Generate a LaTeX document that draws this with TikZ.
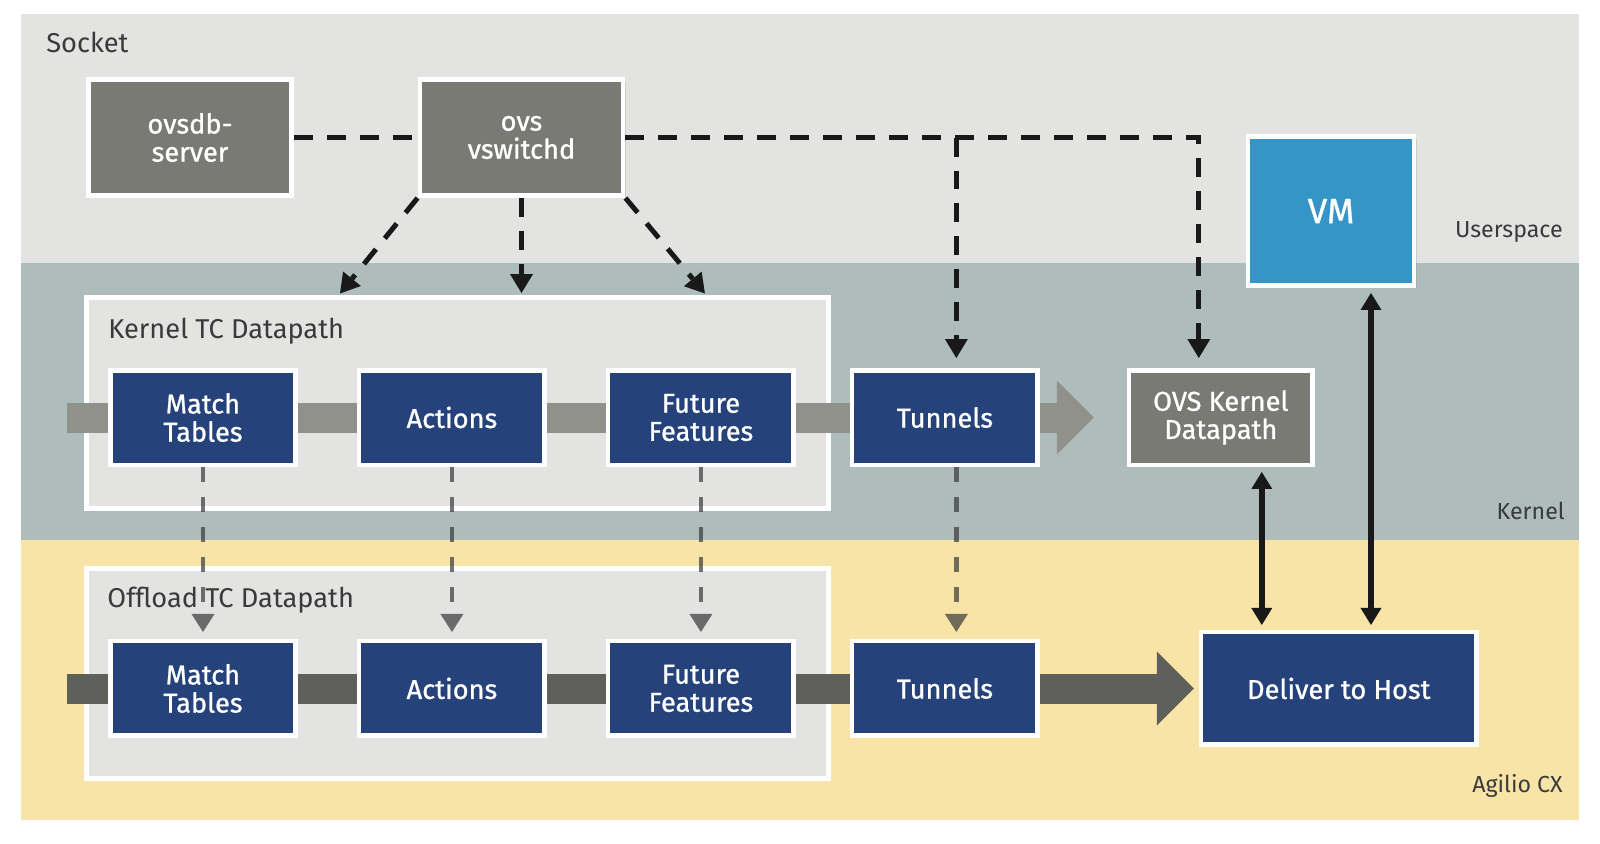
\documentclass[tikz,border=0pt]{standalone}
\usepackage{fontspec}
\setmainfont{Fira Sans}
\newfontfamily\boxfont[FakeBold=0.9]{Fira Sans}
\usetikzlibrary{positioning,arrows.meta,calc,shadows}

\definecolor{usrband}{HTML}{E3E3E1}
\definecolor{kerband}{HTML}{AEBCBC}
\definecolor{nicband}{HTML}{F9E4A8}
\definecolor{tcblue}{HTML}{26427A}
\definecolor{ovsgray}{HTML}{7A7A75}
\definecolor{vmblue}{HTML}{3595C7}
\definecolor{pipelight}{HTML}{91918C}
\definecolor{pipedark}{HTML}{5F5F5C}
\definecolor{zonetext}{HTML}{3A3A3A}

\pgfdeclarelayer{bands}
\pgfdeclarelayer{pipes}
\pgfsetlayers{bands,pipes,main}

\begin{document}
\begin{tikzpicture}[
  x=0.02cm, y=-0.02cm,
  font=\fontsize{15.5}{16}\selectfont,
  blk/.style={draw=white, line width=0.09cm, text=white, align=center, inner sep=2pt,
    font=\boxfont\fontsize{15.5}{16}\selectfont,
    minimum width=3.71cm, minimum height=1.89cm,
    drop shadow={shadow xshift=0.05cm, shadow yshift=-0.05cm, opacity=0.25}},
  tcblk/.style={blk, fill=tcblue},
  daemon/.style={blk, fill=ovsgray, minimum width=4.07cm, minimum height=2.33cm},
  dpath/.style={draw=white, line width=0.09cm, fill=usrband, minimum width=14.85cm,
    drop shadow={shadow xshift=0.05cm, shadow yshift=-0.05cm, opacity=0.2}},
  zone/.style={text=zonetext, inner sep=0pt},
  pipe/.style={line width=0.6cm, -{Triangle[length=0.74cm, width=1.48cm, line width=0pt]}},
  link/.style={line width=0.1cm, black!90, dash pattern=on 0.38cm off 0.28cm},
  ctrl/.style={link, -{Triangle[length=0.38cm, width=0.46cm, line width=0pt]}, shorten >=0.2cm},
  offl/.style={line width=0.09cm, draw=black!78, opacity=0.7, dash pattern=on 0.3cm off 0.3cm,
    -{Triangle[length=0.36cm, width=0.46cm, line width=0pt]}, shorten >=0.14cm},
  dbl/.style={line width=0.12cm, black!90,
    {Triangle[length=0.34cm, width=0.42cm, line width=0pt]}-{Triangle[length=0.34cm, width=0.42cm, line width=0pt]},
    shorten <=0.1cm, shorten >=0.1cm},
  node distance=1.18cm]
\useasboundingbox (0,0) rectangle (1600,843);

% bands and datapath frames
\begin{pgfonlayer}{bands}
\fill[usrband] (21,14) rectangle (1579,263);
\fill[kerband] (21,263) rectangle (1579,540);
\fill[nicband] (21,540) rectangle (1579,820);
\node[zone, anchor=base west] (sock) at (46,52) {Socket};
\node[zone, anchor=base east, font=\fontsize{13.2}{14}\selectfont] (usr) at (1563,237) {Userspace};
\node[zone, anchor=base east, font=\fontsize{13.2}{14}\selectfont] (ker) at (1565,519) {Kernel};
\node[zone, anchor=base east, font=\fontsize{13.2}{14}\selectfont] (agi) at (1563,792) {Agilio CX};
\node[dpath, minimum height=4.23cm] (ktc) at (457.5,403) {};
\node[dpath, minimum height=4.21cm] (otc) at (457.5,673.5) {};
\node[zone, anchor=base west] (ktct) at ($(ktc.north west)+(24,43)$) {Kernel TC Datapath};
\node[zone, anchor=base west] (otct) at ($(otc.north west)+(23,41)$) {Offload TC Datapath};
\end{pgfonlayer}

% userspace
\node[daemon] (ovsdb) at (190,137.5) {ovsdb-\\server};
\node[daemon] (ovs) at (521.5,137.5) {ovs\\vswitchd};
\node[blk, fill=vmblue, minimum width=3.33cm, minimum height=2.99cm,
  font=\boxfont\fontsize{20}{22}\selectfont] (vm) at (1331,211) {VM};

% kernel row
\node[tcblk] (mtK) at (203,417.5) {Match\\Tables};
\node[tcblk, right=of mtK] (acK) {Actions};
\node[tcblk, right=of acK] (ffK) {Future\\Features};
\node[tcblk, right=1.08cm of ffK] (tuK) {Tunnels};
\node[blk, fill=ovsgray, minimum width=3.67cm, right=1.74cm of tuK] (okd) {OVS Kernel\\Datapath};

% offload row
\node[tcblk, below=3.44cm of mtK] (mtO) {Match\\Tables};
\node[tcblk, right=of mtO] (acO) {Actions};
\node[tcblk, right=of acO] (ffO) {Future\\Features};
\node[tcblk, right=1.08cm of ffO] (tuO) {Tunnels};
\node[tcblk, minimum width=5.51cm, minimum height=2.25cm, right=3.18cm of tuO] (dth) {Deliver to Host};

\coordinate (tuin) at ([xshift=0.23cm]tuK.north);
\coordinate (tuout) at ([xshift=0.23cm]tuK.south);
\coordinate (okin) at ([xshift=-0.44cm]okd.north);
\coordinate (okout) at ([xshift=0.82cm]okd.south);
\coordinate (vmout) at ([xshift=0.8cm]vm.south);

% packet pipes
\begin{pgfonlayer}{pipes}
\coordinate (kin) at (67,417.5);
\coordinate (oin) at (67,688.5);
\draw[pipe, pipelight, shorten >=0.66cm] (kin) -- (okd.west);
\draw[pipe, pipedark, shorten >=0.1cm] (oin) -- (oin -| dth.west);
\end{pgfonlayer}

% control
\draw[link] (ovsdb) -- (ovs);
\draw[ctrl] (ovs.east) -| (okin);
\draw[ctrl] (ovs.east -| tuin) -- (tuin);
\draw[ctrl, shorten >=0.04cm] (ovs.south west) -- ($(ktc.north west)!0.341!(ktc.north east)$);
\draw[ctrl, shorten >=0.04cm] (ovs.south) -- (ovs.south |- ktc.north);
\draw[ctrl, shorten >=0.04cm] (ovs.south east) -- ($(ktc.north west)!0.833!(ktc.north east)$);

% offload
\draw[offl] (mtK) -- (mtO);
\draw[offl] (acK) -- (acO);
\draw[offl] (ffK) -- (ffO);
\draw[offl] (tuout) -- (tuout |- tuO.north);

% host paths
\draw[dbl] (okout) -- (okout |- dth.north);
\draw[dbl] (vmout) -- (vmout |- dth.north);
\end{tikzpicture}
\end{document}
